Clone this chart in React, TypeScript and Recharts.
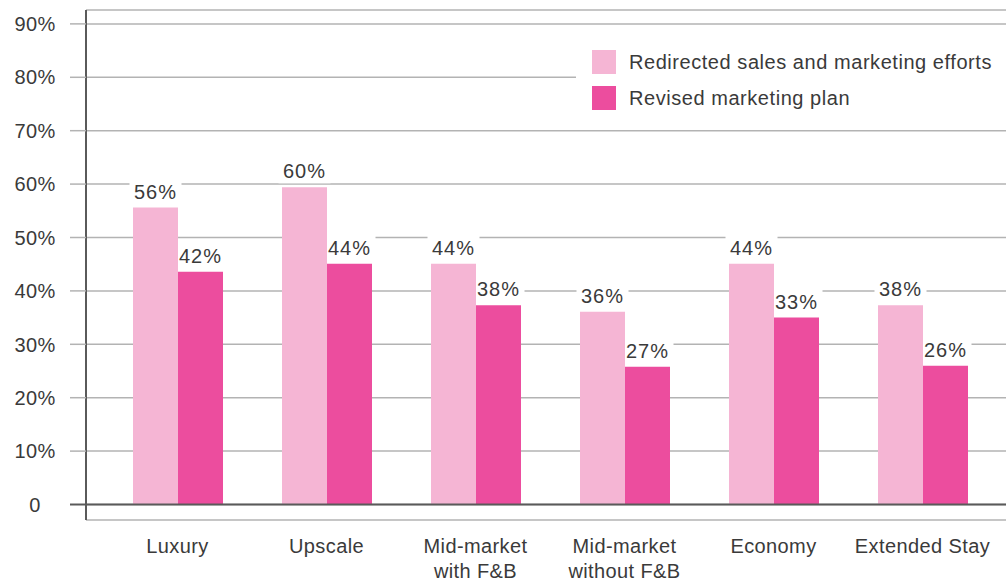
import React from "react";
import {
  BarChart,
  Bar,
  XAxis,
  YAxis,
  CartesianGrid,
  Legend,
  LabelList,
  ReferenceLine,
} from "recharts";

const categories = [
  "Luxury",
  "Upscale",
  "Mid-market\nwith F&B",
  "Mid-market\nwithout F&B",
  "Economy",
  "Extended Stay",
];
const redirectedValues = [55.6, 59.4, 45.1, 36.1, 45.1, 37.3];
const revisedValues = [43.6, 45.1, 37.3, 25.8, 35.0, 26.0];
const redirectedLabels = ["56%", "60%", "44%", "36%", "44%", "38%"];
const revisedLabels = ["42%", "44%", "38%", "27%", "33%", "26%"];
const yTicks = [0, 10, 20, 30, 40, 50, 60, 70, 80, 90];

const SERIES = [
  { key: "redirected", name: "Redirected sales and marketing efforts", color: "#f5b5d4" },
  { key: "revised", name: "Revised marketing plan", color: "#ec4d9e" },
];

const FONT = "'Liberation Sans', Arial, sans-serif";
const TEXT = "#3a3a3a";
const GRID = "#b3b3b3";
const AXIS = "#5a5a5a";

const data = categories.map((category, i) => ({
  category,
  redirected: redirectedValues[i],
  revised: revisedValues[i],
  redirectedLabel: redirectedLabels[i],
  revisedLabel: revisedLabels[i],
}));

function YTick({ x, y, payload }: any) {
  const v = payload.value;
  // tick text sits 30px left of the axis line; draw the grid stub out to the axis
  const axisX = x + 30;
  return (
    <g>
      <line
        x1={axisX - 16}
        x2={axisX}
        y1={y}
        y2={y}
        stroke={v === 0 ? AXIS : GRID}
        strokeWidth={v === 0 ? 2 : 1.5}
      />
      <text
        x={35}
        y={y}
        dy="0.36em"
        textAnchor="middle"
        fontSize={20}
        fontFamily={FONT}
        letterSpacing={0.3}
        fill={TEXT}
      >
        {v === 0 ? "0" : `${v}%`}
      </text>
    </g>
  );
}

function XTick({ x, y, payload }: any) {
  const lines = String(payload.value).split("\n");
  return (
    <text
      x={x}
      y={y}
      textAnchor="middle"
      fontSize={20}
      fontFamily={FONT}
      letterSpacing={0.4}
      fill={TEXT}
    >
      {lines.map((l, i) => (
        <tspan key={i} x={x} dy={i === 0 ? 33 : 25}>
          {l}
        </tspan>
      ))}
    </text>
  );
}

function ValueLabel({ x, y, width, value, clipLeft }: any) {
  const cx = x + width / 2;
  // the right-hand bar's label must not paint over its lighter neighbour
  const left = clipLeft ? Math.max(cx - 26, x) : cx - 26;
  return (
    <g>
      <rect x={left} y={y - 28} width={cx + 26 - left} height={24} fill="#fff" />
      <text
        x={cx}
        y={y - 9}
        textAnchor="middle"
        fontSize={20}
        fontFamily={FONT}
        letterSpacing={1}
        fill={TEXT}
      >
        {value}
      </text>
    </g>
  );
}

function LegendBox() {
  return (
    <div style={{ background: "#fff", width: 430, height: 90, paddingTop: 8, boxSizing: "border-box" }}>
      {SERIES.map((s) => (
        <div
          key={s.key}
          style={{ display: "flex", alignItems: "center", height: 36, paddingLeft: 16 }}
        >
          <span style={{ width: 24, height: 24, background: s.color, marginRight: 13, display: "inline-block" }} />
          <span style={{ fontFamily: FONT, fontSize: 20, color: TEXT, letterSpacing: 0.55 }}>{s.name}</span>
        </div>
      ))}
    </div>
  );
}

export default function App() {
  return (
    <div style={{ position: "absolute", left: 0, top: 0, width: 1006, height: 582, background: "#fff" }}>
      <BarChart
        width={1006}
        height={582}
        data={data}
        margin={{ top: 10, right: 0, bottom: 0, left: 0 }}
        barGap={0}
      >
        <CartesianGrid vertical={false} stroke={GRID} strokeWidth={1.5} />
        <XAxis
          dataKey="category"
          height={62}
          axisLine={false}
          tickLine={false}
          tickSize={0}
          tickMargin={0}
          interval={0}
          padding={{ left: 17, right: 9 }}
          tick={<XTick />}
        />
        <YAxis
          type="number"
          domain={[-2.9, 92.6]}
          ticks={yTicks}
          width={86}
          axisLine={{ stroke: AXIS, strokeWidth: 2 }}
          tickLine={false}
          tickSize={16}
          tickMargin={14}
          interval={0}
          tick={<YTick />}
        />
        <Legend
          layout="vertical"
          align="center"
          verticalAlign="middle"
          content={<LegendBox />}
          wrapperStyle={{ left: 576, top: 36, width: 430, height: 90 }}
        />
        {SERIES.map((s, si) => (
          <Bar
            key={s.key}
            dataKey={s.key}
            name={s.name}
            fill={s.color}
            barSize={45}
            isAnimationActive={false}
          >
            <LabelList dataKey={`${s.key}Label`} content={<ValueLabel clipLeft={si === 1} />} />
          </Bar>
        ))}
        <ReferenceLine y={0} stroke={AXIS} strokeWidth={2} />
      </BarChart>
    </div>
  );
}
